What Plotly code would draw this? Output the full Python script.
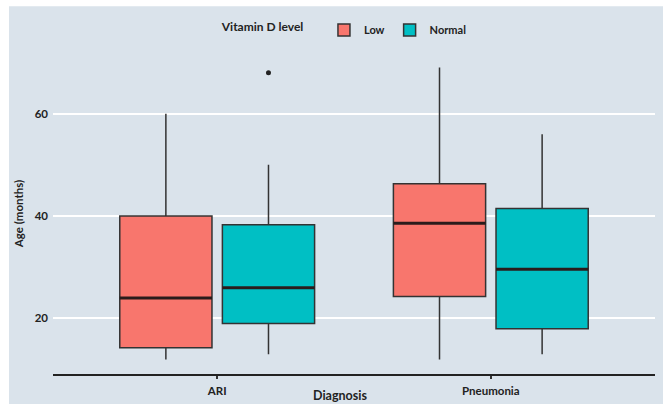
import plotly.graph_objects as go

# Age (months) summary statistics per diagnosis and vitamin D group
diagnoses = ["ARI", "Pneumonia"]
groups = ["Low", "Normal"]
q1 = {"Low": [14.3, 24.3], "Normal": [19.0, 18.0]}
median = {"Low": [24.0, 38.6], "Normal": [26.0, 29.6]}
q3 = {"Low": [40.0, 46.3], "Normal": [38.3, 41.5]}
lower_fence = {"Low": [12.0, 12.0], "Normal": [13.0, 13.0]}
upper_fence = {"Low": [60.0, 69.0], "Normal": [50.0, 56.0]}
outliers = {"Low": [[], []], "Normal": [[68.0], []]}

colors = {"Low": "#F8766D", "Normal": "#00BFC4"}
dodge = {"Low": -0.1875, "Normal": 0.1875}
box_w = 0.337
edge = "#333333"
bg = "#DAE3EB"
font_family = "Lato, 'Open Sans', sans-serif"

fig = go.Figure()

for g in groups:
    xs = [i + dodge[g] for i in range(len(diagnoses))]
    fig.add_trace(go.Box(
        name=g,
        x=xs,
        q1=q1[g], median=median[g], q3=q3[g],
        lowerfence=lower_fence[g], upperfence=upper_fence[g],
        width=box_w,
        whiskerwidth=0,
        fillcolor=colors[g],
        line=dict(color=edge, width=1.5),
        boxpoints=False,
        hoverinfo="skip",
    ))

# thicker median bars on top of each box
for g in groups:
    mx, my = [], []
    for i, m in enumerate(median[g]):
        c = i + dodge[g]
        mx += [c - box_w / 2, c + box_w / 2, None]
        my += [m, m, None]
    fig.add_trace(go.Scatter(
        x=mx, y=my, mode="lines",
        line=dict(color="#2a1c1c", width=3),
        showlegend=False, hoverinfo="skip",
    ))

# outlying observations
for g in groups:
    ox, oy = [], []
    for i, vals in enumerate(outliers[g]):
        for v in vals:
            ox.append(i + dodge[g])
            oy.append(v)
    if ox:
        fig.add_trace(go.Scatter(
            x=ox, y=oy, mode="markers",
            marker=dict(color="#222222", size=5),
            showlegend=False, hoverinfo="skip",
        ))

# panel background sits slightly inset from the page edge
fig.add_shape(
    type="rect", xref="paper", yref="paper",
    x0=-0.0731, x1=1.02, y0=-0.2, y1=1.146,
    fillcolor=bg, line=dict(width=0), layer="below",
)

# x-axis title sitting against the bottom edge
fig.add_annotation(
    text="<b>Diagnosis</b>", xref="paper", yref="paper",
    x=0.477, y=-0.0935, xanchor="center", yanchor="bottom",
    showarrow=False, borderpad=0,
    font=dict(size=12.5, color="#222222"),
)

fig.update_layout(
    width=663, height=404,
    margin=dict(l=53, r=8, t=53, b=30),
    paper_bgcolor="white",
    plot_bgcolor="rgba(0,0,0,0)",
    font=dict(family=font_family, color="#222222"),
    boxmode="overlay",
    showlegend=True,
    legend=dict(
        orientation="h",
        x=0.277, xanchor="left",
        y=1.0717, yanchor="middle",
        bgcolor="rgba(0,0,0,0)",
        title=dict(text="<b>Vitamin D level</b>\u00a0\u00a0\u00a0\u00a0", side="left",
                   font=dict(size=12, color="#222222")),
        font=dict(size=11, color="#222222", weight="bold"),
        itemwidth=30,
    ),
    xaxis=dict(
        range=[-0.6, 1.6],
        tickmode="array",
        tickvals=list(range(len(diagnoses))),
        ticktext=[f"<b>{d}</b>" for d in diagnoses],
        tickfont=dict(size=11.5, color="#222222"),
        showgrid=False, zeroline=False,
        showline=True, linecolor="#222222", linewidth=2,
        ticks="outside", ticklen=3, tickwidth=1.5, tickcolor="#333333",
        ticklabelstandoff=2,
        automargin=False,
    ),
    yaxis=dict(
        range=[9.15, 71.85],
        tickvals=[20, 40, 60],
        ticktext=["<b>20</b>", "<b>40</b>", "<b>60</b>"],
        tickfont=dict(size=11.5, color="#222222"),
        showgrid=True, gridcolor="white", gridwidth=2,
        zeroline=False, showline=False,
        ticks="", ticklabelstandoff=4,
        title=dict(text="<b>Age (months)</b>", standoff=8,
                   font=dict(size=11.5, color="#222222")),
        automargin=False,
    ),
)

fig.write_html("out.html")
